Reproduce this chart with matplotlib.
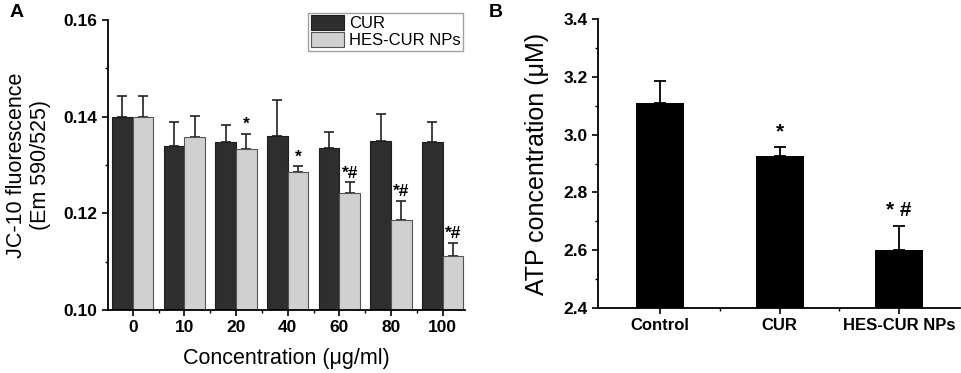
import numpy as np
import matplotlib.pyplot as plt
from matplotlib.ticker import MultipleLocator, FixedLocator

plt.rcParams['font.family'] = ['Liberation Sans', 'DejaVu Sans']

# Panel A data
conc = ['0', '10', '20', '40', '60', '80', '100']
cur_vals = [0.1400, 0.1339, 0.1348, 0.1360, 0.1335, 0.1350, 0.1348]
cur_err = [0.0043, 0.0049, 0.0035, 0.0075, 0.0033, 0.0055, 0.0041]
hes_vals = [0.1400, 0.1357, 0.1334, 0.1285, 0.1242, 0.1186, 0.1112]
hes_err = [0.0043, 0.0044, 0.0031, 0.0013, 0.0022, 0.0040, 0.0027]
hes_marks = ['', '', '*', '*', '*#', '*#', '*#']

# Panel B data
groups = ['Control', 'CUR', 'HES-CUR NPs']
atp_vals = [3.110, 2.927, 2.601]
atp_err = [0.075, 0.031, 0.083]
atp_marks = ['', '*', '* #']

dark = '#2e2e2e'
light = '#d0d0d0'

fig = plt.figure(figsize=(9.62, 3.73), dpi=100)
axA = fig.add_axes([0.1123, 0.1689, 0.3711, 0.7775])
axB = fig.add_axes([0.6216, 0.1743, 0.3764, 0.7747])

# ---- panel A
x = np.arange(len(conc))
w = 0.4
axA.bar(x - w / 2, cur_vals, w, color=dark, edgecolor='#1e1e1e', linewidth=0.8,
        label='CUR', zorder=2)
axA.bar(x + w / 2, hes_vals, w, color=light, edgecolor='#555555', linewidth=0.8,
        label='HES-CUR NPs', zorder=2)
axA.errorbar(x - w / 2, cur_vals, yerr=[np.zeros(len(x)), cur_err], fmt='none',
             ecolor='#222222', elinewidth=1.2, capsize=3.5, capthick=1.2, zorder=1)
axA.errorbar(x + w / 2, hes_vals, yerr=[np.zeros(len(x)), hes_err], fmt='none',
             ecolor='#222222', elinewidth=1.2, capsize=3.5, capthick=1.2, zorder=1)
for xi, v, e, m in zip(x, hes_vals, hes_err, hes_marks):
    if m:
        axA.annotate(m, (xi + w / 2, v + e), xytext=(0, 1), textcoords='offset points',
                     ha='center', va='bottom', fontsize=12.5, fontweight='bold')

axA.set_xlim(-0.48, 6.43)
axA.set_ylim(0.10, 0.16)
axA.set_xticks(x)
axA.set_xticklabels(conc)
axA.xaxis.set_minor_locator(FixedLocator(x[:-1] + 0.5))
axA.yaxis.set_major_locator(MultipleLocator(0.02))
axA.yaxis.set_minor_locator(MultipleLocator(0.01))
axA.yaxis.set_major_formatter(plt.FormatStrFormatter('%.2f'))
axA.set_ylabel('JC-10 fluorescence\n(Em 590/525)', fontsize=15.5, labelpad=9)
axA.set_xlabel('Concentration (\u03bcg/ml)', fontsize=15.5, labelpad=9)
axA.legend(loc='upper right', bbox_to_anchor=(0.995, 1.025), fontsize=12, frameon=True,
           fancybox=False, edgecolor='#888888', handlelength=2.0, handleheight=1.0,
           borderpad=0.15, labelspacing=0.05, handletextpad=0.3, borderaxespad=0.0)

# ---- panel B
xb = np.arange(len(groups))
axB.bar(xb, atp_vals, 0.4, color='black', zorder=2)
axB.errorbar(xb, atp_vals, yerr=[np.zeros(len(xb)), atp_err], fmt='none',
             ecolor='black', elinewidth=1.3, capsize=4, capthick=1.3, zorder=1)
for xi, v, e, m in zip(xb, atp_vals, atp_err, atp_marks):
    if m:
        axB.annotate(m, (xi, v + e), xytext=(0, 4), textcoords='offset points',
                     ha='center', va='bottom', fontsize=15, fontweight='bold')
axB.set_xlim(-0.52, 2.51)
axB.set_ylim(2.4, 3.4)
axB.set_xticks(xb)
axB.set_xticklabels(groups)
axB.xaxis.set_minor_locator(FixedLocator(xb[:-1] + 0.5))
axB.yaxis.set_major_locator(MultipleLocator(0.2))
axB.yaxis.set_minor_locator(MultipleLocator(0.1))
axB.yaxis.set_major_formatter(plt.FormatStrFormatter('%.1f'))
axB.set_ylabel('ATP concentration (\u03bcM)', fontsize=18, labelpad=10)

for ax in (axA, axB):
    ax.spines['top'].set_visible(False)
    ax.spines['right'].set_visible(False)
    ax.spines['left'].set_linewidth(1.3)
    ax.spines['bottom'].set_linewidth(1.3)
    ax.tick_params(which='major', direction='out', length=4, width=1.2, labelsize=12.5)
    ax.tick_params(which='minor', direction='out', length=2.5, width=1.0)
    for lab in ax.get_xticklabels() + ax.get_yticklabels():
        lab.set_fontweight('bold')
axB.tick_params(axis='x', which='major', labelsize=12)

fig.text(0.010, 0.955, 'A', fontsize=14, fontweight='bold')
fig.text(0.508, 0.955, 'B', fontsize=14, fontweight='bold')

fig.savefig('out.png', dpi=100)
